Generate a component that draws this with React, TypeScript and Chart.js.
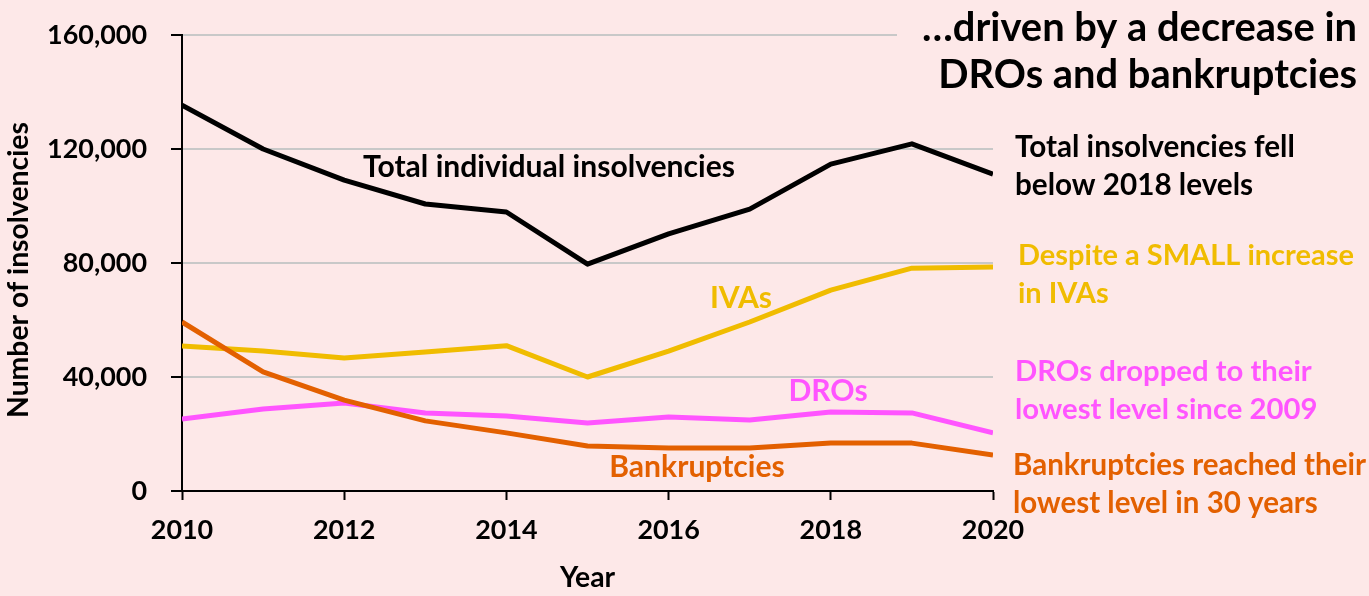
import React, { useEffect, useRef } from "react";
import { Chart, registerables } from "chart.js";

Chart.register(...registerables);

const years = [2010, 2011, 2012, 2013, 2014, 2015, 2016, 2017, 2018, 2019, 2020];
const totalInsolvencies = [135400, 120000, 109100, 100700, 97900, 79600, 90200, 98900, 114700, 121800, 111200];
const ivas = [50900, 49100, 46700, 48800, 51000, 40000, 49100, 59300, 70500, 78200, 78600];
const dros = [25300, 28800, 30900, 27400, 26300, 23900, 26000, 24900, 27700, 27400, 20400];
const bankruptcies = [59300, 41800, 31900, 24600, 20400, 15800, 15100, 15100, 16800, 16800, 12600];
const yTicks = [0, 40000, 80000, 120000, 160000];
const xTicks = [2010, 2012, 2014, 2016, 2018, 2020];

const BG = "#fde8e8";
const BLACK = "#000000";
const YELLOW = "#f0bc00";
const PINK = "#ff55ff";
const ORANGE = "#e36000";
const FONT = "Lato, 'Open Sans', sans-serif";

const titleLines = ["…driven by a decrease in", "DROs and bankruptcies"];
const notes = [
  { lines: ["Total insolvencies fell", "below 2018 levels"], color: BLACK, x: 1015, y: 147, w: 280 },
  { lines: ["Despite a SMALL increase", "in IVAs"], color: YELLOW, x: 1018, y: 256, w: 336 },
  { lines: ["DROs dropped to their", "lowest level since 2009"], color: PINK, x: 1015, y: 372, w: 297 },
  { lines: ["Bankruptcies reached their", "lowest level in 30 years"], color: ORANGE, x: 1013, y: 465, w: 353 },
];
const inlineLabels = [
  { text: "Total individual insolvencies", color: BLACK, x: 549, y: 167 },
  { text: "IVAs", color: YELLOW, x: 741, y: 298 },
  { text: "DROs", color: PINK, x: 828, y: 391 },
  { text: "Bankruptcies", color: ORANGE, x: 697, y: 467 },
];

const pts = (vals: number[]) => vals.map((v, i) => ({ x: years[i], y: v }));

function fitSize(text: string, width: number): number {
  const c = document.createElement("canvas").getContext("2d")!;
  c.font = `bold 100px ${FONT}`;
  const w = c.measureText(text).width;
  return (100 * width) / w;
}

export default function App() {
  const ref = useRef<HTMLCanvasElement>(null);
  useEffect(() => {
    const canvas = ref.current!;
    const inlineSize = fitSize("Total individual insolvencies", 372);
    const titleSize = fitSize(titleLines[0], 435);
    const tickSize = fitSize("160,000", 100);
    const axisTitleSize = fitSize("Number of insolvencies", 296);
    const noteSizes = notes.map((n) => fitSize(n.lines[0], n.w));

    const textPlugin = {
      id: "textPlugin",
      afterDraw(chart: any) {
        const ctx = chart.ctx as CanvasRenderingContext2D;
        ctx.save();
        ctx.fillStyle = BG;
        ctx.fillRect(897, 0, 1369 - 897, 100);
        ctx.textBaseline = "middle";
        ctx.fillStyle = BLACK;
        ctx.font = `bold ${titleSize}px ${FONT}`;
        ctx.textAlign = "right";
        ctx.fillText(titleLines[0], 1357, 28);
        ctx.fillText(titleLines[1], 1357, 75);
        ctx.textAlign = "left";
        notes.forEach((n, k) => {
          ctx.font = `bold ${noteSizes[k]}px ${FONT}`;
          ctx.fillStyle = n.color;
          n.lines.forEach((l, i) => ctx.fillText(l, n.x, n.y + i * 38));
        });
        ctx.textAlign = "center";
        ctx.font = `bold ${inlineSize}px ${FONT}`;
        inlineLabels.forEach((l) => {
          ctx.fillStyle = l.color;
          ctx.fillText(l.text, l.x, l.y);
        });
        ctx.fillStyle = BLACK;
        ctx.font = `bold ${axisTitleSize}px ${FONT}`;
        const ca = chart.chartArea;
        ctx.fillText("Year", (ca.left + ca.right) / 2, 578);
        ctx.save();
        ctx.translate(19, 270);
        ctx.rotate(-Math.PI / 2);
        ctx.fillText("Number of insolvencies", 0, 0);
        ctx.restore();
        ctx.restore();
      },
    };

    const mk = (label: string, data: number[], color: string) => ({
      label,
      data: pts(data),
      borderColor: color,
      backgroundColor: color,
      borderWidth: 5,
      pointRadius: 0,
      tension: 0,
      borderJoinStyle: "round" as const,
    });
    const chart = new Chart(canvas, {
      type: "line",
      data: {
        datasets: [
          mk("Bankruptcies", bankruptcies, ORANGE),
          mk("DROs", dros, PINK),
          mk("IVAs", ivas, YELLOW),
          mk("Total individual insolvencies", totalInsolvencies, BLACK),
        ],
      },
      options: {
        responsive: false,
        animation: false,
        devicePixelRatio: 1,
        layout: { padding: { left: 0, top: 35, right: 376, bottom: 0 } },
        plugins: { legend: { display: false }, tooltip: { enabled: false }, title: { display: false } },
        scales: {
          x: {
            type: "linear",
            min: 2010,
            max: 2020,
            afterFit: (s: any) => { s.height = 105; s.paddingLeft = 0; s.paddingRight = 0; },
            afterBuildTicks: (s: any) => { s.ticks = xTicks.map((v) => ({ value: v })); },
            ticks: {
              color: BLACK,
              font: { family: FONT, size: tickSize, weight: "bold" },
              padding: 14,
              maxRotation: 0,
              callback: (v: any) => String(v),
            },
            grid: { drawOnChartArea: false, drawTicks: true, tickLength: 9, tickColor: BLACK, tickWidth: 2 },
            border: { display: true, color: BLACK, width: 2 },
          },
          y: {
            min: 0,
            max: 160000,
            afterFit: (s: any) => { s.width = 182; s.paddingTop = 0; s.paddingBottom = 0; },
            afterBuildTicks: (s: any) => { s.ticks = yTicks.map((v) => ({ value: v })); },
            ticks: {
              color: BLACK,
              font: { family: FONT, size: tickSize, weight: "bold" },
              padding: 24,
              callback: (v: any) => Number(v).toLocaleString("en-US"),
            },
            grid: {
              color: (c: any) => (c.tick && c.tick.value === 0 ? "rgba(0,0,0,0)" : "#c8c8c8"),
              lineWidth: 2,
              drawTicks: true,
              tickLength: 11,
              tickColor: BLACK,
              tickWidth: 2,
            },
            border: { display: true, color: BLACK, width: 2 },
          },
        },
      },
      plugins: [textPlugin],
    });
    return () => chart.destroy();
  }, []);
  return (
    <div style={{ position: "fixed", left: 0, top: 0, width: 1369, height: 596, background: BG }}>
      <canvas ref={ref} width={1369} height={596} style={{ display: "block" }} />
    </div>
  );
}
